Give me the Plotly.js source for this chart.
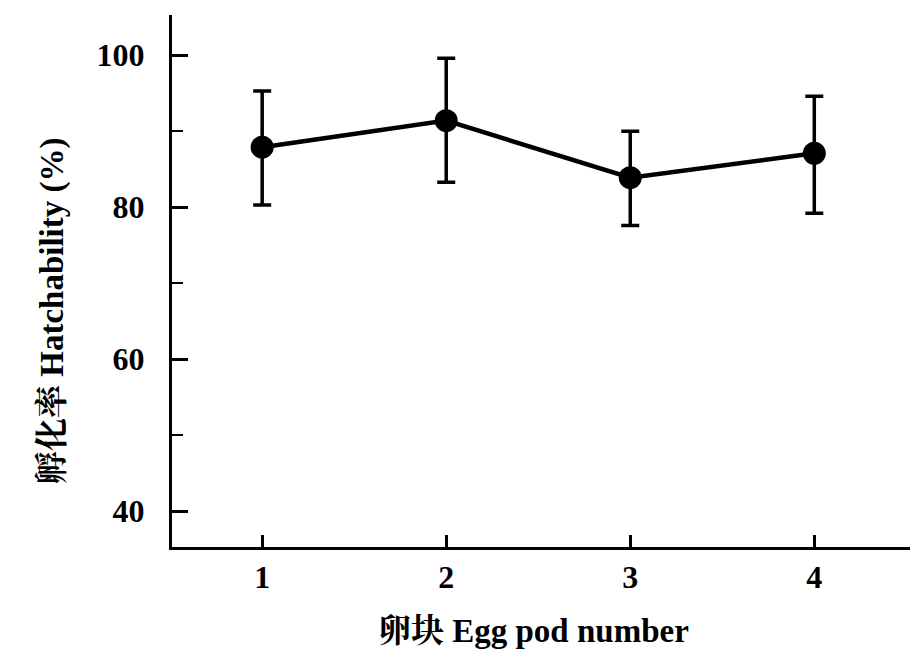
<!DOCTYPE html>
<html>
<head>
<meta charset="utf-8">
<script src="https://cdn.plot.ly/plotly-3.0.1.min.js"></script>
<style>html,body{margin:0;padding:0;background:#fff;}#chart{width:910px;height:657px;}</style>
</head>
<body>
<div id="chart"></div>
<script>
const eggPods = [1, 2, 3, 4];
const hatchability = [87.9, 91.4, 83.9, 87.1];
const errPlus = [7.4, 8.2, 6.1, 7.5];
const errMinus = [7.6, 8.1, 6.3, 7.9];
const xTickLabels = ['1', '2', '3', '4'];
const xTitle = '卵块 Egg pod number';
const yTitle = '孵化率 Hatchability (%)';

const FONT = '"Liberation Serif", "Noto Serif CJK SC", "Noto Sans CJK SC", serif';

const trace = {
  x: eggPods,
  y: hatchability,
  type: 'scatter',
  mode: 'lines+markers',
  line: {color: '#000', width: 4.5},
  marker: {color: '#000', size: 23, symbol: 'circle'},
  error_y: {
    type: 'data',
    symmetric: false,
    array: errPlus,
    arrayminus: errMinus,
    color: '#000',
    thickness: 3.5,
    width: 9
  },
  showlegend: false
};

const layout = {
  width: 910,
  height: 657,
  margin: {l: 172, r: 0, t: 15, b: 110},
  paper_bgcolor: '#fff',
  plot_bgcolor: '#fff',
  font: {family: FONT, color: '#000', size: 30, weight: 'bold'},
  xaxis: {
    range: [0.51, 4.52],
    tickvals: eggPods,
    ticktext: xTickLabels,
    ticks: 'inside',
    ticklen: 12,
    tickwidth: 3,
    tickcolor: '#000',
    showline: true,
    linewidth: 3,
    linecolor: '#000',
    showgrid: false,
    zeroline: false,
    tickfont: {family: FONT, size: 32, color: '#000', weight: 'bold'},
    ticklabelstandoff: 0
  },
  yaxis: {
    range: [35.3, 105.3],
    tick0: 0,
    dtick: 20,
    ticks: 'inside',
    ticklen: 16,
    tickwidth: 3,
    tickcolor: '#000',
    minor: {dtick: 10, ticks: 'inside', ticklen: 11, tickwidth: 2, tickcolor: '#000'},
    showline: true,
    linewidth: 3,
    linecolor: '#000',
    showgrid: false,
    zeroline: false,
    tickfont: {family: FONT, size: 32, color: '#000', weight: 'bold'},
    ticklabelstandoff: 18
  },
  annotations: [
    {
      text: xTitle, xref: 'paper', yref: 'paper', x: 0.49, y: -0.158,
      xanchor: 'center', yanchor: 'middle', showarrow: false,
      font: {family: FONT, size: 33, color: '#000', weight: 'bold'}
    },
    {
      text: yTitle, xref: 'paper', yref: 'paper', x: -0.1626, y: 0.4436,
      xanchor: 'center', yanchor: 'middle', showarrow: false, textangle: -90,
      font: {family: FONT, size: 33, color: '#000', weight: 'bold'}
    }
  ]
};

Plotly.newPlot('chart', [trace], layout, {displayModeBar: false, staticPlot: true});
</script>
</body>
</html>
